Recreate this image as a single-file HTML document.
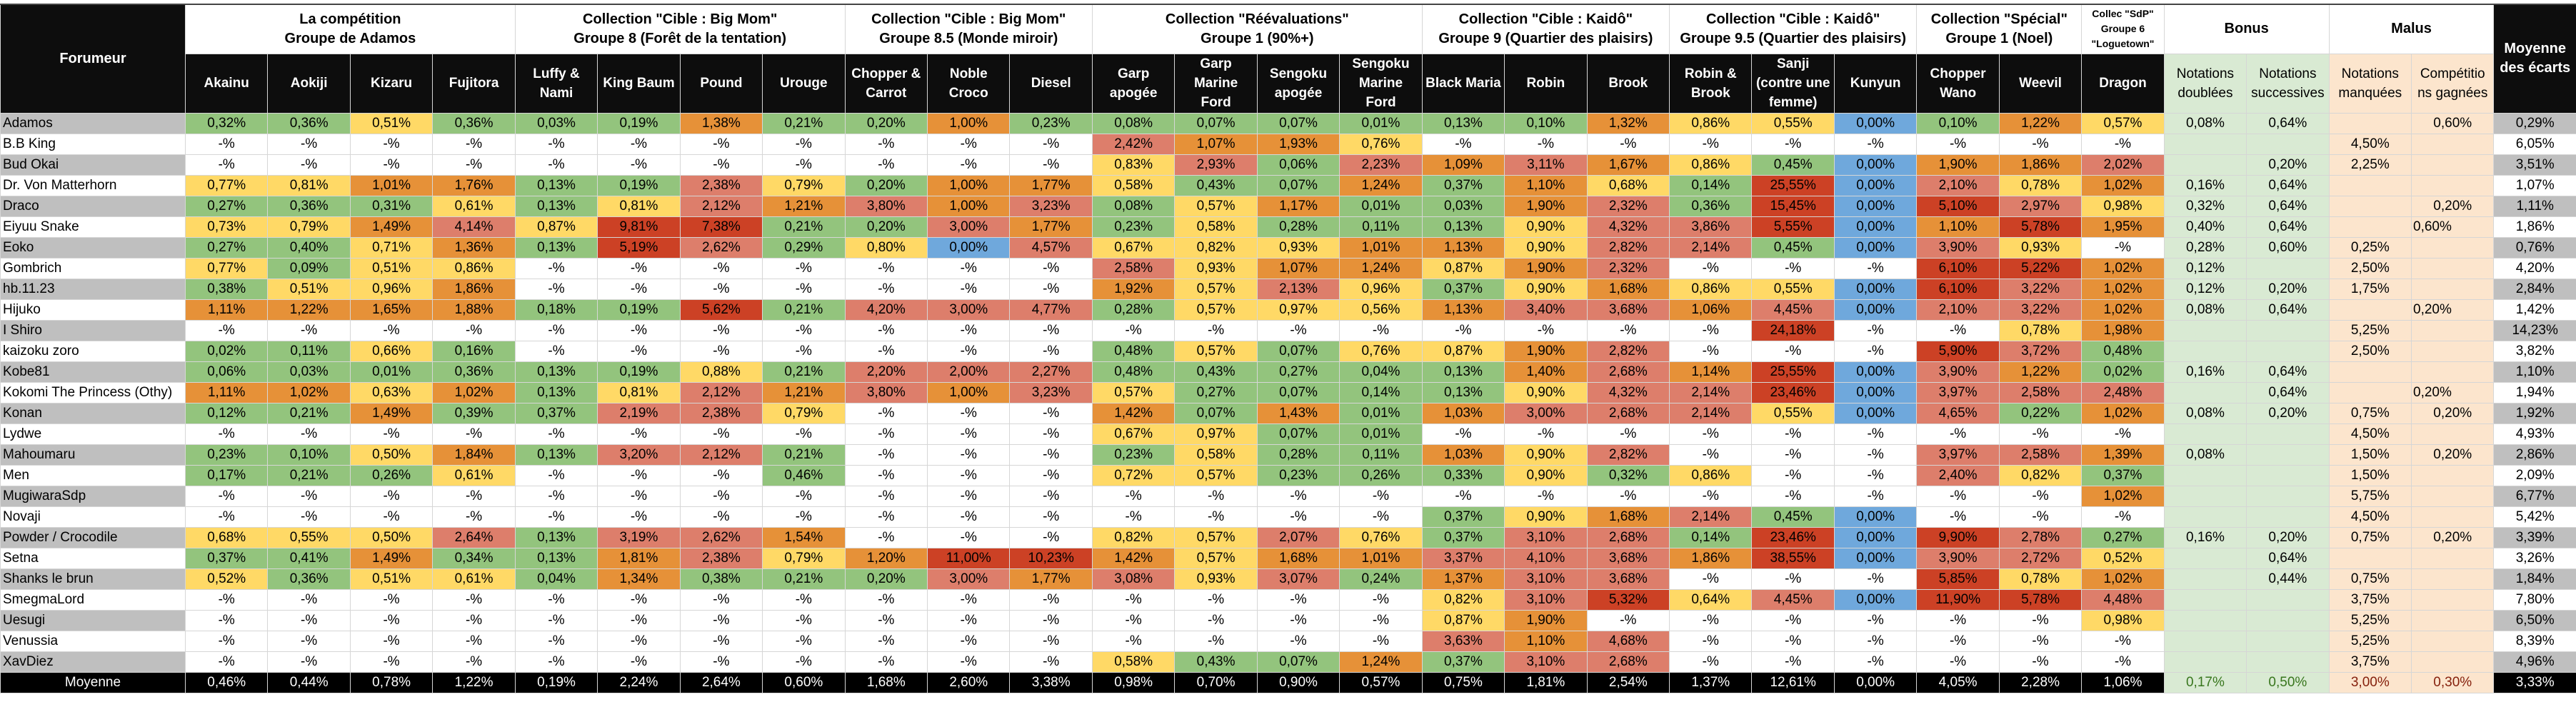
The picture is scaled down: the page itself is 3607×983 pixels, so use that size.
<!DOCTYPE html>
<html><head><meta charset="utf-8">
<style>
html,body{margin:0;padding:0;background:#fff;width:3607px;height:983px;overflow:hidden}
table{position:absolute;top:5px;left:0;border-collapse:collapse;table-layout:fixed;width:3607px;border-top:2px solid #444}
td{border:1px solid #d6d6d6;text-align:center;font-family:"Liberation Sans",sans-serif;font-size:19px;padding:0;overflow:hidden;white-space:nowrap;color:#000}
tr.d{height:29px}
tr.d td{height:28px}
td.n{text-align:left;padding-left:3px;background:#fff}
td.ng{text-align:left;padding-left:3px;background:#bfbfbf}
.g{background:#93c47d}.y{background:#ffd966}.o{background:#e69138}.s{background:#dd7e6b}.r{background:#cc4125}.b{background:#6fa8dc}
.bn{background:#d9ead3}.ml{background:#fce5cd}.l{text-align:left;padding-left:2px}
.mw{background:#fff}.mg{background:#bfbfbf}
th{font-family:"Liberation Sans",sans-serif;}
.gh{font-weight:bold;font-size:20px;line-height:27px;background:#fff;white-space:normal}
.ch{background:#0d0d0d;color:#fff;font-weight:bold;font-size:19px;line-height:27px;white-space:normal}
.sh{font-size:19px;line-height:27px;white-space:normal}
tr.mo td{background:#000;color:#fff;height:28px}
tr.mo td.bn{background:#d9ead3;color:#38761d}
tr.mo td.ml{background:#fce5cd;color:#85200c}
</style></head><body>
<table>
<colgroup><col style="width:259px"><col span="29" style="width:115.45px"></colgroup>
<tr style="height:69px">
<td rowspan="2" class="ch" style="font-size:20px">Forumeur</td>
<td colspan="4" class="gh">La compétition<br>Groupe de Adamos</td>
<td colspan="4" class="gh">Collection "Cible : Big Mom"<br>Groupe 8 (Forêt de la tentation)</td>
<td colspan="3" class="gh">Collection "Cible : Big Mom"<br>Groupe 8.5 (Monde miroir)</td>
<td colspan="4" class="gh">Collection "Réévaluations"<br>Groupe 1 (90%+)</td>
<td colspan="3" class="gh">Collection "Cible : Kaidô"<br>Groupe 9 (Quartier des plaisirs)</td>
<td colspan="3" class="gh">Collection "Cible : Kaidô"<br>Groupe 9.5 (Quartier des plaisirs)</td>
<td colspan="2" class="gh">Collection "Spécial"<br>Groupe 1 (Noel)</td>
<td class="gh" style="font-size:14px;line-height:21px">Collec "SdP"<br>Groupe 6<br>"Loguetown"</td>
<td colspan="2" class="gh bn">Bonus</td>
<td colspan="2" class="gh ml">Malus</td>
<td rowspan="2" class="ch" style="font-size:20px">Moyenne<br>des écarts</td>
</tr>
<tr style="height:83px">
<td class="ch">Akainu</td><td class="ch">Aokiji</td><td class="ch">Kizaru</td><td class="ch">Fujitora</td>
<td class="ch">Luffy &amp;<br>Nami</td><td class="ch">King Baum</td><td class="ch">Pound</td><td class="ch">Urouge</td>
<td class="ch">Chopper &amp;<br>Carrot</td><td class="ch">Noble<br>Croco</td><td class="ch">Diesel</td>
<td class="ch">Garp<br>apogée</td><td class="ch">Garp<br>Marine<br>Ford</td><td class="ch">Sengoku<br>apogée</td><td class="ch">Sengoku<br>Marine<br>Ford</td>
<td class="ch">Black Maria</td><td class="ch">Robin</td><td class="ch">Brook</td>
<td class="ch">Robin &amp;<br>Brook</td><td class="ch">Sanji<br>(contre une<br>femme)</td><td class="ch">Kunyun</td>
<td class="ch">Chopper<br>Wano</td><td class="ch">Weevil</td><td class="ch">Dragon</td>
<td class="sh bn">Notations<br>doublées</td><td class="sh bn">Notations<br>successives</td><td class="sh ml">Notations<br>manquées</td><td class="sh ml">Compétitio<br>ns gagnées</td>
</tr>
<tr class="d"><td class="ng">Adamos</td><td class="g">0,32%</td><td class="g">0,36%</td><td class="y">0,51%</td><td class="g">0,36%</td><td class="g">0,03%</td><td class="g">0,19%</td><td class="o">1,38%</td><td class="g">0,21%</td><td class="g">0,20%</td><td class="o">1,00%</td><td class="g">0,23%</td><td class="g">0,08%</td><td class="g">0,07%</td><td class="g">0,07%</td><td class="g">0,01%</td><td class="g">0,13%</td><td class="g">0,10%</td><td class="o">1,32%</td><td class="y">0,86%</td><td class="y">0,55%</td><td class="b">0,00%</td><td class="g">0,10%</td><td class="o">1,22%</td><td class="y">0,57%</td><td class="bn">0,08%</td><td class="bn">0,64%</td><td class="ml"></td><td class="ml">0,60%</td><td class="mg">0,29%</td></tr>
<tr class="d"><td class="n">B.B King</td><td>-%</td><td>-%</td><td>-%</td><td>-%</td><td>-%</td><td>-%</td><td>-%</td><td>-%</td><td>-%</td><td>-%</td><td>-%</td><td class="s">2,42%</td><td class="o">1,07%</td><td class="o">1,93%</td><td class="y">0,76%</td><td>-%</td><td>-%</td><td>-%</td><td>-%</td><td>-%</td><td>-%</td><td>-%</td><td>-%</td><td>-%</td><td class="bn"></td><td class="bn"></td><td class="ml">4,50%</td><td class="ml"></td><td class="mw">6,05%</td></tr>
<tr class="d"><td class="ng">Bud Okai</td><td>-%</td><td>-%</td><td>-%</td><td>-%</td><td>-%</td><td>-%</td><td>-%</td><td>-%</td><td>-%</td><td>-%</td><td>-%</td><td class="y">0,83%</td><td class="s">2,93%</td><td class="g">0,06%</td><td class="s">2,23%</td><td class="o">1,09%</td><td class="s">3,11%</td><td class="o">1,67%</td><td class="y">0,86%</td><td class="g">0,45%</td><td class="b">0,00%</td><td class="o">1,90%</td><td class="o">1,86%</td><td class="s">2,02%</td><td class="bn"></td><td class="bn">0,20%</td><td class="ml">2,25%</td><td class="ml"></td><td class="mg">3,51%</td></tr>
<tr class="d"><td class="n">Dr. Von Matterhorn</td><td class="y">0,77%</td><td class="y">0,81%</td><td class="o">1,01%</td><td class="o">1,76%</td><td class="g">0,13%</td><td class="g">0,19%</td><td class="s">2,38%</td><td class="y">0,79%</td><td class="g">0,20%</td><td class="o">1,00%</td><td class="o">1,77%</td><td class="y">0,58%</td><td class="g">0,43%</td><td class="g">0,07%</td><td class="o">1,24%</td><td class="g">0,37%</td><td class="o">1,10%</td><td class="y">0,68%</td><td class="g">0,14%</td><td class="r">25,55%</td><td class="b">0,00%</td><td class="s">2,10%</td><td class="y">0,78%</td><td class="o">1,02%</td><td class="bn">0,16%</td><td class="bn">0,64%</td><td class="ml"></td><td class="ml"></td><td class="mw">1,07%</td></tr>
<tr class="d"><td class="ng">Draco</td><td class="g">0,27%</td><td class="g">0,36%</td><td class="g">0,31%</td><td class="y">0,61%</td><td class="g">0,13%</td><td class="y">0,81%</td><td class="s">2,12%</td><td class="o">1,21%</td><td class="s">3,80%</td><td class="o">1,00%</td><td class="s">3,23%</td><td class="g">0,08%</td><td class="y">0,57%</td><td class="o">1,17%</td><td class="g">0,01%</td><td class="g">0,03%</td><td class="o">1,90%</td><td class="s">2,32%</td><td class="g">0,36%</td><td class="r">15,45%</td><td class="b">0,00%</td><td class="r">5,10%</td><td class="s">2,97%</td><td class="y">0,98%</td><td class="bn">0,32%</td><td class="bn">0,64%</td><td class="ml"></td><td class="ml">0,20%</td><td class="mg">1,11%</td></tr>
<tr class="d"><td class="n">Eiyuu Snake</td><td class="y">0,73%</td><td class="y">0,79%</td><td class="o">1,49%</td><td class="s">4,14%</td><td class="y">0,87%</td><td class="r">9,81%</td><td class="r">7,38%</td><td class="g">0,21%</td><td class="g">0,20%</td><td class="s">3,00%</td><td class="o">1,77%</td><td class="g">0,23%</td><td class="y">0,58%</td><td class="g">0,28%</td><td class="g">0,11%</td><td class="g">0,13%</td><td class="y">0,90%</td><td class="s">4,32%</td><td class="s">3,86%</td><td class="r">5,55%</td><td class="b">0,00%</td><td class="o">1,10%</td><td class="r">5,78%</td><td class="o">1,95%</td><td class="bn">0,40%</td><td class="bn">0,64%</td><td class="ml"></td><td class="ml l">0,60%</td><td class="mw">1,86%</td></tr>
<tr class="d"><td class="ng">Eoko</td><td class="g">0,27%</td><td class="g">0,40%</td><td class="y">0,71%</td><td class="o">1,36%</td><td class="g">0,13%</td><td class="r">5,19%</td><td class="s">2,62%</td><td class="g">0,29%</td><td class="y">0,80%</td><td class="b">0,00%</td><td class="s">4,57%</td><td class="y">0,67%</td><td class="y">0,82%</td><td class="y">0,93%</td><td class="o">1,01%</td><td class="o">1,13%</td><td class="y">0,90%</td><td class="s">2,82%</td><td class="s">2,14%</td><td class="g">0,45%</td><td class="b">0,00%</td><td class="s">3,90%</td><td class="y">0,93%</td><td>-%</td><td class="bn">0,28%</td><td class="bn">0,60%</td><td class="ml">0,25%</td><td class="ml"></td><td class="mg">0,76%</td></tr>
<tr class="d"><td class="n">Gombrich</td><td class="y">0,77%</td><td class="g">0,09%</td><td class="y">0,51%</td><td class="y">0,86%</td><td>-%</td><td>-%</td><td>-%</td><td>-%</td><td>-%</td><td>-%</td><td>-%</td><td class="s">2,58%</td><td class="y">0,93%</td><td class="o">1,07%</td><td class="o">1,24%</td><td class="y">0,87%</td><td class="o">1,90%</td><td class="s">2,32%</td><td>-%</td><td>-%</td><td>-%</td><td class="r">6,10%</td><td class="r">5,22%</td><td class="o">1,02%</td><td class="bn">0,12%</td><td class="bn"></td><td class="ml">2,50%</td><td class="ml"></td><td class="mw">4,20%</td></tr>
<tr class="d"><td class="ng">hb.11.23</td><td class="g">0,38%</td><td class="y">0,51%</td><td class="y">0,96%</td><td class="o">1,86%</td><td>-%</td><td>-%</td><td>-%</td><td>-%</td><td>-%</td><td>-%</td><td>-%</td><td class="o">1,92%</td><td class="y">0,57%</td><td class="s">2,13%</td><td class="y">0,96%</td><td class="g">0,37%</td><td class="y">0,90%</td><td class="o">1,68%</td><td class="y">0,86%</td><td class="y">0,55%</td><td class="b">0,00%</td><td class="r">6,10%</td><td class="s">3,22%</td><td class="o">1,02%</td><td class="bn">0,12%</td><td class="bn">0,20%</td><td class="ml">1,75%</td><td class="ml"></td><td class="mg">2,84%</td></tr>
<tr class="d"><td class="n">Hijuko</td><td class="o">1,11%</td><td class="o">1,22%</td><td class="o">1,65%</td><td class="o">1,88%</td><td class="g">0,18%</td><td class="g">0,19%</td><td class="r">5,62%</td><td class="g">0,21%</td><td class="s">4,20%</td><td class="s">3,00%</td><td class="s">4,77%</td><td class="g">0,28%</td><td class="y">0,57%</td><td class="y">0,97%</td><td class="y">0,56%</td><td class="o">1,13%</td><td class="s">3,40%</td><td class="s">3,68%</td><td class="o">1,06%</td><td class="s">4,45%</td><td class="b">0,00%</td><td class="s">2,10%</td><td class="s">3,22%</td><td class="o">1,02%</td><td class="bn">0,08%</td><td class="bn">0,64%</td><td class="ml"></td><td class="ml l">0,20%</td><td class="mw">1,42%</td></tr>
<tr class="d"><td class="ng">I Shiro</td><td>-%</td><td>-%</td><td>-%</td><td>-%</td><td>-%</td><td>-%</td><td>-%</td><td>-%</td><td>-%</td><td>-%</td><td>-%</td><td>-%</td><td>-%</td><td>-%</td><td>-%</td><td>-%</td><td>-%</td><td>-%</td><td>-%</td><td class="r">24,18%</td><td>-%</td><td>-%</td><td class="y">0,78%</td><td class="o">1,98%</td><td class="bn"></td><td class="bn"></td><td class="ml">5,25%</td><td class="ml"></td><td class="mg">14,23%</td></tr>
<tr class="d"><td class="n">kaizoku zoro</td><td class="g">0,02%</td><td class="g">0,11%</td><td class="y">0,66%</td><td class="g">0,16%</td><td>-%</td><td>-%</td><td>-%</td><td>-%</td><td>-%</td><td>-%</td><td>-%</td><td class="g">0,48%</td><td class="y">0,57%</td><td class="g">0,07%</td><td class="y">0,76%</td><td class="y">0,87%</td><td class="o">1,90%</td><td class="s">2,82%</td><td>-%</td><td>-%</td><td>-%</td><td class="r">5,90%</td><td class="s">3,72%</td><td class="g">0,48%</td><td class="bn"></td><td class="bn"></td><td class="ml">2,50%</td><td class="ml"></td><td class="mw">3,82%</td></tr>
<tr class="d"><td class="ng">Kobe81</td><td class="g">0,06%</td><td class="g">0,03%</td><td class="g">0,01%</td><td class="g">0,36%</td><td class="g">0,13%</td><td class="g">0,19%</td><td class="y">0,88%</td><td class="g">0,21%</td><td class="s">2,20%</td><td class="s">2,00%</td><td class="s">2,27%</td><td class="g">0,48%</td><td class="g">0,43%</td><td class="g">0,27%</td><td class="g">0,04%</td><td class="g">0,13%</td><td class="o">1,40%</td><td class="s">2,68%</td><td class="o">1,14%</td><td class="r">25,55%</td><td class="b">0,00%</td><td class="s">3,90%</td><td class="o">1,22%</td><td class="g">0,02%</td><td class="bn">0,16%</td><td class="bn">0,64%</td><td class="ml"></td><td class="ml"></td><td class="mg">1,10%</td></tr>
<tr class="d"><td class="n">Kokomi The Princess (Othy)</td><td class="o">1,11%</td><td class="o">1,02%</td><td class="y">0,63%</td><td class="o">1,02%</td><td class="g">0,13%</td><td class="y">0,81%</td><td class="s">2,12%</td><td class="o">1,21%</td><td class="s">3,80%</td><td class="o">1,00%</td><td class="s">3,23%</td><td class="y">0,57%</td><td class="g">0,27%</td><td class="g">0,07%</td><td class="g">0,14%</td><td class="g">0,13%</td><td class="y">0,90%</td><td class="s">4,32%</td><td class="s">2,14%</td><td class="r">23,46%</td><td class="b">0,00%</td><td class="s">3,97%</td><td class="s">2,58%</td><td class="s">2,48%</td><td class="bn"></td><td class="bn">0,64%</td><td class="ml"></td><td class="ml l">0,20%</td><td class="mw">1,94%</td></tr>
<tr class="d"><td class="ng">Konan</td><td class="g">0,12%</td><td class="g">0,21%</td><td class="o">1,49%</td><td class="g">0,39%</td><td class="g">0,37%</td><td class="s">2,19%</td><td class="s">2,38%</td><td class="y">0,79%</td><td>-%</td><td>-%</td><td>-%</td><td class="o">1,42%</td><td class="g">0,07%</td><td class="o">1,43%</td><td class="g">0,01%</td><td class="o">1,03%</td><td class="s">3,00%</td><td class="s">2,68%</td><td class="s">2,14%</td><td class="y">0,55%</td><td class="b">0,00%</td><td class="s">4,65%</td><td class="g">0,22%</td><td class="o">1,02%</td><td class="bn">0,08%</td><td class="bn">0,20%</td><td class="ml">0,75%</td><td class="ml">0,20%</td><td class="mg">1,92%</td></tr>
<tr class="d"><td class="n">Lydwe</td><td>-%</td><td>-%</td><td>-%</td><td>-%</td><td>-%</td><td>-%</td><td>-%</td><td>-%</td><td>-%</td><td>-%</td><td>-%</td><td class="y">0,67%</td><td class="y">0,97%</td><td class="g">0,07%</td><td class="g">0,01%</td><td>-%</td><td>-%</td><td>-%</td><td>-%</td><td>-%</td><td>-%</td><td>-%</td><td>-%</td><td>-%</td><td class="bn"></td><td class="bn"></td><td class="ml">4,50%</td><td class="ml"></td><td class="mw">4,93%</td></tr>
<tr class="d"><td class="ng">Mahoumaru</td><td class="g">0,23%</td><td class="g">0,10%</td><td class="y">0,50%</td><td class="o">1,84%</td><td class="g">0,13%</td><td class="s">3,20%</td><td class="s">2,12%</td><td class="g">0,21%</td><td>-%</td><td>-%</td><td>-%</td><td class="g">0,23%</td><td class="y">0,58%</td><td class="g">0,28%</td><td class="g">0,11%</td><td class="o">1,03%</td><td class="y">0,90%</td><td class="s">2,82%</td><td>-%</td><td>-%</td><td>-%</td><td class="s">3,97%</td><td class="s">2,58%</td><td class="o">1,39%</td><td class="bn">0,08%</td><td class="bn"></td><td class="ml">1,50%</td><td class="ml">0,20%</td><td class="mg">2,86%</td></tr>
<tr class="d"><td class="n">Men</td><td class="g">0,17%</td><td class="g">0,21%</td><td class="g">0,26%</td><td class="y">0,61%</td><td>-%</td><td>-%</td><td>-%</td><td class="g">0,46%</td><td>-%</td><td>-%</td><td>-%</td><td class="y">0,72%</td><td class="y">0,57%</td><td class="g">0,23%</td><td class="g">0,26%</td><td class="g">0,33%</td><td class="y">0,90%</td><td class="g">0,32%</td><td class="y">0,86%</td><td>-%</td><td>-%</td><td class="s">2,40%</td><td class="y">0,82%</td><td class="g">0,37%</td><td class="bn"></td><td class="bn"></td><td class="ml">1,50%</td><td class="ml"></td><td class="mw">2,09%</td></tr>
<tr class="d"><td class="ng">MugiwaraSdp</td><td>-%</td><td>-%</td><td>-%</td><td>-%</td><td>-%</td><td>-%</td><td>-%</td><td>-%</td><td>-%</td><td>-%</td><td>-%</td><td>-%</td><td>-%</td><td>-%</td><td>-%</td><td>-%</td><td>-%</td><td>-%</td><td>-%</td><td>-%</td><td>-%</td><td>-%</td><td>-%</td><td class="o">1,02%</td><td class="bn"></td><td class="bn"></td><td class="ml">5,75%</td><td class="ml"></td><td class="mg">6,77%</td></tr>
<tr class="d"><td class="n">Novaji</td><td>-%</td><td>-%</td><td>-%</td><td>-%</td><td>-%</td><td>-%</td><td>-%</td><td>-%</td><td>-%</td><td>-%</td><td>-%</td><td>-%</td><td>-%</td><td>-%</td><td>-%</td><td class="g">0,37%</td><td class="y">0,90%</td><td class="o">1,68%</td><td class="s">2,14%</td><td class="g">0,45%</td><td class="b">0,00%</td><td>-%</td><td>-%</td><td>-%</td><td class="bn"></td><td class="bn"></td><td class="ml">4,50%</td><td class="ml"></td><td class="mw">5,42%</td></tr>
<tr class="d"><td class="ng">Powder / Crocodile</td><td class="y">0,68%</td><td class="y">0,55%</td><td class="y">0,50%</td><td class="s">2,64%</td><td class="g">0,13%</td><td class="s">3,19%</td><td class="s">2,62%</td><td class="o">1,54%</td><td>-%</td><td>-%</td><td>-%</td><td class="y">0,82%</td><td class="y">0,57%</td><td class="s">2,07%</td><td class="y">0,76%</td><td class="g">0,37%</td><td class="s">3,10%</td><td class="s">2,68%</td><td class="g">0,14%</td><td class="r">23,46%</td><td class="b">0,00%</td><td class="r">9,90%</td><td class="s">2,78%</td><td class="g">0,27%</td><td class="bn">0,16%</td><td class="bn">0,20%</td><td class="ml">0,75%</td><td class="ml">0,20%</td><td class="mg">3,39%</td></tr>
<tr class="d"><td class="n">Setna</td><td class="g">0,37%</td><td class="g">0,41%</td><td class="o">1,49%</td><td class="g">0,34%</td><td class="g">0,13%</td><td class="o">1,81%</td><td class="s">2,38%</td><td class="y">0,79%</td><td class="o">1,20%</td><td class="r">11,00%</td><td class="r">10,23%</td><td class="o">1,42%</td><td class="y">0,57%</td><td class="o">1,68%</td><td class="o">1,01%</td><td class="s">3,37%</td><td class="s">4,10%</td><td class="s">3,68%</td><td class="o">1,86%</td><td class="r">38,55%</td><td class="b">0,00%</td><td class="s">3,90%</td><td class="s">2,72%</td><td class="y">0,52%</td><td class="bn"></td><td class="bn">0,64%</td><td class="ml"></td><td class="ml"></td><td class="mw">3,26%</td></tr>
<tr class="d"><td class="ng">Shanks le brun</td><td class="y">0,52%</td><td class="g">0,36%</td><td class="y">0,51%</td><td class="y">0,61%</td><td class="g">0,04%</td><td class="o">1,34%</td><td class="g">0,38%</td><td class="g">0,21%</td><td class="g">0,20%</td><td class="s">3,00%</td><td class="o">1,77%</td><td class="s">3,08%</td><td class="y">0,93%</td><td class="s">3,07%</td><td class="g">0,24%</td><td class="o">1,37%</td><td class="s">3,10%</td><td class="s">3,68%</td><td>-%</td><td>-%</td><td>-%</td><td class="r">5,85%</td><td class="y">0,78%</td><td class="o">1,02%</td><td class="bn"></td><td class="bn">0,44%</td><td class="ml">0,75%</td><td class="ml"></td><td class="mg">1,84%</td></tr>
<tr class="d"><td class="n">SmegmaLord</td><td>-%</td><td>-%</td><td>-%</td><td>-%</td><td>-%</td><td>-%</td><td>-%</td><td>-%</td><td>-%</td><td>-%</td><td>-%</td><td>-%</td><td>-%</td><td>-%</td><td>-%</td><td class="y">0,82%</td><td class="s">3,10%</td><td class="r">5,32%</td><td class="y">0,64%</td><td class="s">4,45%</td><td class="b">0,00%</td><td class="r">11,90%</td><td class="r">5,78%</td><td class="s">4,48%</td><td class="bn"></td><td class="bn"></td><td class="ml">3,75%</td><td class="ml"></td><td class="mw">7,80%</td></tr>
<tr class="d"><td class="ng">Uesugi</td><td>-%</td><td>-%</td><td>-%</td><td>-%</td><td>-%</td><td>-%</td><td>-%</td><td>-%</td><td>-%</td><td>-%</td><td>-%</td><td>-%</td><td>-%</td><td>-%</td><td>-%</td><td class="y">0,87%</td><td class="o">1,90%</td><td>-%</td><td>-%</td><td>-%</td><td>-%</td><td>-%</td><td>-%</td><td class="y">0,98%</td><td class="bn"></td><td class="bn"></td><td class="ml">5,25%</td><td class="ml"></td><td class="mg">6,50%</td></tr>
<tr class="d"><td class="n">Venussia</td><td>-%</td><td>-%</td><td>-%</td><td>-%</td><td>-%</td><td>-%</td><td>-%</td><td>-%</td><td>-%</td><td>-%</td><td>-%</td><td>-%</td><td>-%</td><td>-%</td><td>-%</td><td class="s">3,63%</td><td class="o">1,10%</td><td class="s">4,68%</td><td>-%</td><td>-%</td><td>-%</td><td>-%</td><td>-%</td><td>-%</td><td class="bn"></td><td class="bn"></td><td class="ml">5,25%</td><td class="ml"></td><td class="mw">8,39%</td></tr>
<tr class="d"><td class="ng">XavDiez</td><td>-%</td><td>-%</td><td>-%</td><td>-%</td><td>-%</td><td>-%</td><td>-%</td><td>-%</td><td>-%</td><td>-%</td><td>-%</td><td class="y">0,58%</td><td class="g">0,43%</td><td class="g">0,07%</td><td class="o">1,24%</td><td class="g">0,37%</td><td class="s">3,10%</td><td class="s">2,68%</td><td>-%</td><td>-%</td><td>-%</td><td>-%</td><td>-%</td><td>-%</td><td class="bn"></td><td class="bn"></td><td class="ml">3,75%</td><td class="ml"></td><td class="mg">4,96%</td></tr>
<tr class="d mo"><td>Moyenne</td><td>0,46%</td><td>0,44%</td><td>0,78%</td><td>1,22%</td><td>0,19%</td><td>2,24%</td><td>2,64%</td><td>0,60%</td><td>1,68%</td><td>2,60%</td><td>3,38%</td><td>0,98%</td><td>0,70%</td><td>0,90%</td><td>0,57%</td><td>0,75%</td><td>1,81%</td><td>2,54%</td><td>1,37%</td><td>12,61%</td><td>0,00%</td><td>4,05%</td><td>2,28%</td><td>1,06%</td><td class="bn">0,17%</td><td class="bn">0,50%</td><td class="ml">3,00%</td><td class="ml">0,30%</td><td>3,33%</td></tr>
</table>
</body></html>
